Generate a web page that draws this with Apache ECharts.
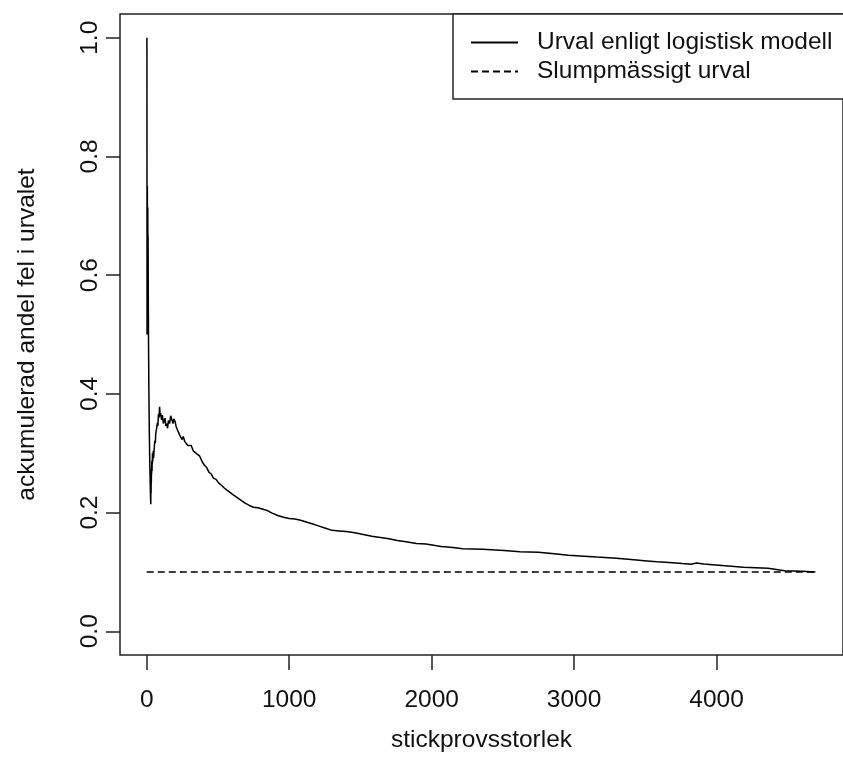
<!DOCTYPE html>
<html>
<head>
<meta charset="utf-8">
<script src="https://cdn.jsdelivr.net/npm/echarts@6/dist/echarts.min.js"></script>
<style>
html,body{margin:0;padding:0;background:#fff;}
#chart{width:843px;height:772px;}
</style>
</head>
<body>
<div id="chart"></div>
<script>
// Sample sizes (x) and accumulated error share (y)
const sampleSizes = [1,2,3,4,5,6,7,8,9,10,11,12,13,14,15,16,17,18,19,20,21,22,23,24,25,26,27,28,29,30,31,32,33,34,35,36,37,38,39,40,42,44,46,48,50,53,56,60,63,66,70,74,78,82,86,90,94,98,104,110,116,122,128,134,140,146,152,160,168,176,184,190,198,206,214,222,232,240,248,256,266,276,288,300,312,326,340,356,372,388,404,420,436,452,468,486,504,524,546,572,600,630,660,690,720,750,780,810,840,880,920,960,1000,1040,1080,1120,1160,1200,1250,1300,1350,1400,1460,1520,1580,1640,1700,1760,1820,1893,1960,2067,2150,2218,2360,2508,2620,2751,2879,2960,3041,3160,3296,3400,3493,3580,3667,3760,3820,3860,3910,4038,4188,4362,4478,4600,4694];
const errorShare = [1.0,0.5,0.667,0.75,0.6,0.667,0.714,0.625,0.667,0.6,0.545,0.5,0.462,0.429,0.4,0.375,0.353,0.333,0.316,0.3,0.286,0.273,0.261,0.25,0.24,0.231,0.222,0.214,0.241,0.233,0.258,0.25,0.273,0.265,0.286,0.278,0.27,0.289,0.282,0.3,0.286,0.295,0.304,0.292,0.3,0.302,0.321,0.317,0.333,0.333,0.343,0.351,0.346,0.366,0.36,0.378,0.362,0.367,0.356,0.364,0.35,0.352,0.359,0.346,0.35,0.342,0.355,0.35,0.363,0.364,0.35,0.358,0.354,0.345,0.34,0.338,0.33,0.329,0.323,0.328,0.32,0.319,0.313,0.31,0.313,0.304,0.306,0.298,0.295,0.286,0.28,0.276,0.268,0.265,0.258,0.256,0.25,0.246,0.241,0.236,0.231,0.226,0.221,0.216,0.212,0.209,0.208,0.206,0.204,0.199,0.195,0.192,0.19,0.189,0.187,0.184,0.181,0.178,0.174,0.17,0.169,0.168,0.166,0.163,0.16,0.158,0.156,0.153,0.151,0.148,0.147,0.143,0.141,0.139,0.138,0.136,0.134,0.133,0.13,0.128,0.127,0.125,0.123,0.121,0.119,0.117,0.116,0.114,0.113,0.115,0.1135,0.111,0.108,0.106,0.102,0.101,0.1];
// Random sampling reference line
const randomSizes = [0, 4694];
const randomShare = [0.1, 0.1];

const xTicks = [0, 1000, 2000, 3000, 4000];
const yTicks = [0, 0.2, 0.4, 0.6, 0.8, 1.0];
const seriesNames = ['Urval enligt logistisk modell', 'Slumpmässigt urval'];
const xTitle = 'stickprovsstorlek';
const yTitle = 'ackumulerad andel fel i urvalet';

const FONT = "'Liberation Sans', Arial, sans-serif";
const INK = '#111';

const chart = echarts.init(document.getElementById('chart'), null, {renderer: 'canvas'});
chart.setOption({
  animation: false,
  backgroundColor: '#fff',
  textStyle: {fontFamily: FONT},
  grid: {left: 120, top: 14, width: 731, height: 641, show: true,
         borderColor: '#222', borderWidth: 1.5, backgroundColor: 'transparent'},
  legend: {
    orient: 'vertical', left: 453, top: 14,
    padding: [14, 18, 13, 17], itemGap: 0, itemWidth: 47, itemHeight: 14,
    backgroundColor: '#fff', borderColor: '#222', borderWidth: 1.5, borderRadius: 0,
    textStyle: {fontSize: 24.5, lineHeight: 29, color: INK, fontFamily: FONT, padding: [0, 0, 0, 14]},
    itemStyle: {opacity: 0},
    selectedMode: false,
    data: seriesNames
  },
  xAxis: {
    type: 'value', min: -188, max: 4888,
    axisLine: {show: false, onZero: false},
    splitLine: {show: false},
    axisTick: {show: true, customValues: xTicks, length: 15, lineStyle: {color: '#222', width: 1.5}},
    axisLabel: {customValues: xTicks, fontSize: 24.5, color: INK, margin: 33, fontFamily: FONT,
                formatter: v => String(Math.round(v))},
    name: xTitle, nameLocation: 'middle', nameGap: 73,
    nameTextStyle: {fontSize: 24.5, color: INK, fontFamily: FONT}
  },
  yAxis: {
    type: 'value', min: -0.04, max: 1.04,
    axisLine: {show: false, onZero: false},
    splitLine: {show: false},
    axisTick: {show: true, customValues: yTicks, length: 14, lineStyle: {color: '#222', width: 1.5}},
    axisLabel: {customValues: yTicks, rotate: 90, fontSize: 24.5, color: INK, margin: 17, fontFamily: FONT,
                formatter: v => Number(v).toFixed(1)},
    name: yTitle, nameLocation: 'middle', nameRotate: 90, nameGap: 80,
    nameTextStyle: {fontSize: 24.5, color: INK, fontFamily: FONT}
  },
  series: [
    {
      name: seriesNames[0], type: 'line', symbol: 'none', showSymbol: false,
      data: sampleSizes.map((n, i) => [n, errorShare[i]]),
      lineStyle: {color: '#000', width: 1.5}, itemStyle: {color: '#000'},
      z: 3
    },
    {
      name: seriesNames[1], type: 'line', symbol: 'none', showSymbol: false,
      data: randomSizes.map((n, i) => [n, randomShare[i]]),
      lineStyle: {color: '#000', width: 1.5, type: [7, 4]}, itemStyle: {color: '#000'},
      z: 2
    }
  ]
});
</script>
</body>
</html>
